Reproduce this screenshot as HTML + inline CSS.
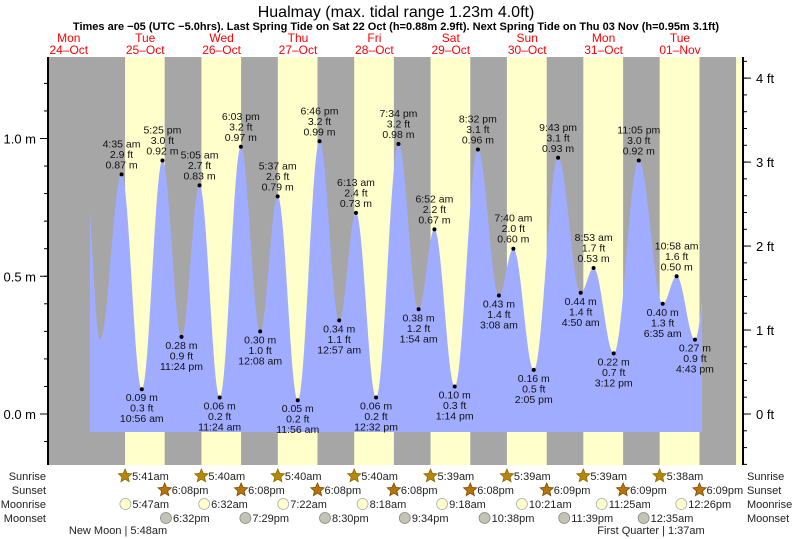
<!DOCTYPE html>
<html><head><meta charset="utf-8"><style>
body{margin:0;background:#fff;}
svg{display:block;font-family:"Liberation Sans",sans-serif;}
</style></head><body>
<svg id="chart" width="793" height="539" viewBox="0 0 793 539" xmlns="http://www.w3.org/2000/svg">
<text x="396" y="17" text-anchor="middle" font-size="16">Hualmay (max. tidal range 1.23m 4.0ft)</text>
<text x="396" y="30" text-anchor="middle" font-size="11" font-weight="bold">Times are −05 (UTC −5.0hrs). Last Spring Tide on Sat 22 Oct (h=0.88m 2.9ft). Next Spring Tide on Thu 03 Nov (h=0.95m 3.1ft)</text>
<g id="bands"></g>
<g id="tide"></g>
<g id="axes"></g>
<g id="days"></g>
<g id="astro"></g>
</svg>
<script>
const dayNames=["Mon","Tue","Wed","Thu","Fri","Sat","Sun","Mon","Tue"];
const dayDates=["24–Oct","25–Oct","26–Oct","27–Oct","28–Oct","29–Oct","30–Oct","31–Oct","01–Nov"];
// extremes: hours since 24 Oct 00:00
const tideHours=[17.0,21.8,28.58,34.93,41.42,47.4,53.08,59.4,66.05,72.13,77.62,83.93,90.77,96.95,102.22,108.53,115.57,121.9,126.87,133.23,140.53,147.13,151.67,158.08,165.72,172.83,176.88,183.2,191.08,198.58,202.97,208.72,215.5];
const tideHeights=[0.90,0.27,0.87,0.09,0.92,0.28,0.83,0.06,0.97,0.30,0.79,0.05,0.99,0.34,0.73,0.06,0.98,0.38,0.67,0.10,0.96,0.43,0.60,0.16,0.93,0.44,0.53,0.22,0.92,0.40,0.50,0.27,0.90];
const tideLabels=["","","4:35 am","10:56 am","5:25 pm","11:24 pm","5:05 am","11:24 am","6:03 pm","12:08 am","5:37 am","11:56 am","6:46 pm","12:57 am","6:13 am","12:32 pm","7:34 pm","1:54 am","6:52 am","1:14 pm","8:32 pm","3:08 am","7:40 am","2:05 pm","9:43 pm","4:50 am","8:53 am","3:12 pm","11:05 pm","6:35 am","10:58 am","4:43 pm",""];
const sunriseHours=[29.68,53.67,77.67,101.67,125.65,149.65,173.65,197.63,221.63];
const sunriseLabels=["5:41am","5:40am","5:40am","5:40am","5:39am","5:39am","5:39am","5:38am",""];
const sunsetHours=[42.13,66.13,90.13,114.13,138.13,162.15,186.15,210.15];
const sunsetLabels=["6:08pm","6:08pm","6:08pm","6:08pm","6:08pm","6:09pm","6:09pm","6:09pm"];
const moonriseHours=[29.78,54.53,79.37,104.3,129.3,154.35,179.42,204.43];
const moonriseLabels=["5:47am","6:32am","7:22am","8:18am","9:18am","10:21am","11:25am","12:26pm"];
const moonsetHours=[42.53,67.48,92.5,117.57,142.63,167.65,192.58];
const moonsetLabels=["6:32pm","7:29pm","8:30pm","9:34pm","10:38pm","11:39pm","12:35am"];
const yTicksM=[0.0,0.5,1.0];
const yTicksFt=[0,1,2,3,4];

const NS="http://www.w3.org/2000/svg";
const X0=30.6, PXH=3.183, Y0=414, PXM=275.5;
const L=48, R=743, T=57, B=465;
const xOf=h=>X0+PXH*h;
const yOf=m=>Y0-PXM*m;
function mk(tag,attrs,parent,text){const e=document.createElementNS(NS,tag);for(const k in attrs)e.setAttribute(k,attrs[k]);if(text!==undefined)e.textContent=text;parent.appendChild(e);return e;}

const bands=document.getElementById('bands');
let bg=mk('rect',{x:L,y:T,width:R-L,height:B-T,fill:'#a6a6a6'},bands);


for(let i=0;i<sunriseHours.length;i++){
  const x1=xOf(sunriseHours[i]);
  const x2=i<sunsetHours.length?xOf(sunsetHours[i]):R;
  const r=mk('rect',{x:x1,y:T,width:Math.min(x2,R)-x1,height:B-T,fill:'#ffffcc'},bands);
  
  
}

const tide=document.getElementById('tide');
function heightAt(h){
  for(let i=0;i<tideHours.length-1;i++){
    if(h>=tideHours[i]&&h<=tideHours[i+1]){
      const f=(h-tideHours[i])/(tideHours[i+1]-tideHours[i]);
      const c=(1-Math.cos(Math.PI*f))/2;
      return tideHeights[i]+(tideHeights[i+1]-tideHeights[i])*c;
    }
  }
  return tideHeights[tideHeights.length-1];
}
const hStart=(90-X0)/PXH, hEnd=(702-X0)/PXH, yBase=432;
let d=`M${xOf(hStart)},${yBase}`;
for(let h=hStart;h<=hEnd;h+=0.1){d+=` L${xOf(h).toFixed(2)},${yOf(heightAt(h)).toFixed(2)}`;}
d+=` L${xOf(hEnd)},${yOf(heightAt(hEnd))} L${xOf(hEnd)},${yBase} Z`;
const area=mk('path',{d:d,fill:'#a0acff'},tide);


for(let i=2;i<tideHours.length-1;i++){
  const x=xOf(tideHours[i]),y=yOf(tideHeights[i]);
  const high=tideHeights[i]>tideHeights[i-1];
  const dot=mk('circle',{cx:x,cy:y,r:2,fill:'#000'},tide);
  
  
  const ft=(tideHeights[i]*3.281).toFixed(1)+' ft';
  const m=tideHeights[i].toFixed(2)+' m';
  const lines=high?[tideLabels[i],ft,m]:[m,ft,tideLabels[i]];
  const base=high?y-27:y+12;
  lines.forEach((t,k)=>{
    const tx=mk('text',{x:x,y:base+k*10.5,'text-anchor':'middle','font-size':'10.5',fill:'#111'},tide,t);
    
    
  });
}

const ax=document.getElementById('axes');
mk('line',{x1:L,y1:T,x2:L,y2:B,stroke:'#000','stroke-width':2},ax);
mk('line',{x1:R,y1:T,x2:R,y2:B,stroke:'#000','stroke-width':2},ax);
for(let v=-0.2;v<=1.31;v+=0.1){const y=yOf(v);if(y<T||y>B)continue;mk('line',{x1:L-4,y1:y,x2:L,y2:y,stroke:'#000'},ax);}
yTicksM.forEach(v=>{const y=yOf(v);mk('line',{x1:L-8,y1:y,x2:L,y2:y,stroke:'#000'},ax);
  const t=mk('text',{x:L-12,y:y+5,'text-anchor':'end','font-size':'13'},ax,v.toFixed(1)+' m');
  
  });
const FT=0.3048;
for(let v=-0.6;v<=4.5;v+=0.2){const y=yOf(v*FT);if(y<T||y>B)continue;mk('line',{x1:R,y1:y,x2:R+4,y2:y,stroke:'#000'},ax);}
yTicksFt.forEach(v=>{const y=yOf(v*FT);mk('line',{x1:R,y1:y,x2:R+8,y2:y,stroke:'#000'},ax);
  const t=mk('text',{x:R+13,y:y+5,'font-size':'13'},ax,v+' ft');
  
  });

const days=document.getElementById('days');
dayNames.forEach((n,i)=>{const x=X0+76.4*i+38.2;
  const a=mk('text',{x:x,y:42,'text-anchor':'middle','font-size':'12',fill:'#ff0000'},days,n);
  
  
  const b=mk('text',{x:x,y:54,'text-anchor':'middle','font-size':'12',fill:'#ff0000'},days,dayDates[i]);
  
  });

const as=document.getElementById('astro');
const rows=[["Sunrise",480],["Sunset",494],["Moonrise",508],["Moonset",522]];
rows.forEach(r=>{
  const a=mk('text',{x:46,y:r[1],'text-anchor':'end','font-size':'11',fill:'#222'},as,r[0]);
  
  
  const b=mk('text',{x:747,y:r[1],'font-size':'11',fill:'#222'},as,r[0]);
  
  
});
function star(cx,cy,fill,stroke){let p=[];for(let k=0;k<10;k++){const rr=k%2?3.2:7;const a=-Math.PI/2+k*Math.PI/5;p.push((cx+rr*Math.cos(a)).toFixed(1)+','+(cy+rr*Math.sin(a)).toFixed(1));}
  return mk('polygon',{points:p.join(' '),fill:fill,stroke:stroke,'stroke-width':0.8},as);}
function entry(hours,labels,row,kind){
  hours.forEach((h,i)=>{if(!labels[i])return;const x=xOf(h),y=rows[row][1]-4;
    let ic;
    if(kind==='sr')ic=star(x,y,'#b8860b','#8a6a00');
    else if(kind==='ss')ic=star(x,y,'#b8730b','#7a4a00');
    else if(kind==='mr')ic=mk('circle',{cx:x,cy:y,r:5.5,fill:'#ffffcc',stroke:'#aaa','stroke-width':0.8},as);
    else ic=mk('circle',{cx:x,cy:y,r:5.5,fill:'#c4c4b4',stroke:'#888','stroke-width':0.8},as);
    
    
    const t=mk('text',{x:x+7,y:rows[row][1],'font-size':'11',fill:'#222'},as,labels[i]);
    
    
  });
}
entry(sunriseHours,sunriseLabels,0,'sr');
entry(sunsetHours,sunsetLabels,1,'ss');
entry(moonriseHours,moonriseLabels,2,'mr');
entry(moonsetHours,moonsetLabels,3,'ms');
const nm=mk('text',{x:118,y:534,'text-anchor':'middle','font-size':'11',fill:'#222'},as,"New Moon | 5:48am");


const fq=mk('text',{x:651,y:534,'text-anchor':'middle','font-size':'11',fill:'#222'},as,"First Quarter | 1:37am");


</script>
</body></html>
